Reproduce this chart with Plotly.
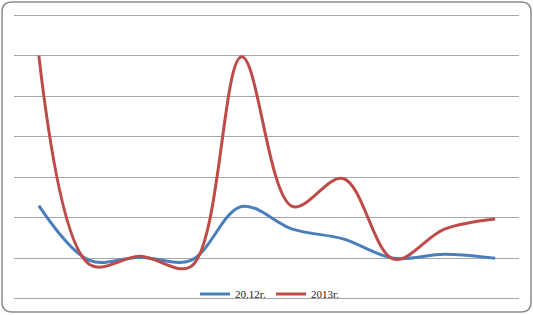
import plotly.graph_objects as go

categories = list(range(10))
series_names = ["20.12г.", "2013г."]
blue_values = [2.3, 0.95, 1.03, 0.95, 2.28, 1.72, 1.48, 1.0, 1.1, 1.0]
red_values = [6.0, 0.85, 1.05, 0.8, 5.97, 2.28, 2.97, 0.98, 1.72, 1.97]

W, H = 533, 315
ml, mr, mt, mb = 14, 14, 7, 7
pw, ph = W - ml - mr, H - mt - mb
Y0, Y1 = -0.2, 7.2

def px(x):
    return (x - ml) / pw

def py(y):
    return (H - mb - y) / ph

fig = go.Figure()
fig.add_trace(go.Scatter(x=categories, y=blue_values, name=series_names[0], mode="lines",
                         line=dict(color="#4a7ebb", width=3, shape="spline", smoothing=1)))
fig.add_trace(go.Scatter(x=categories, y=red_values, name=series_names[1], mode="lines",
                         line=dict(color="#be4b48", width=3, shape="spline", smoothing=1)))

# rounded border
x0, x1, y0, y1, r = 2, 531, 2, 313, 10
path = (f"M {px(x0+r)},{py(y0)} L {px(x1-r)},{py(y0)} Q {px(x1)},{py(y0)} {px(x1)},{py(y0+r)} "
        f"L {px(x1)},{py(y1-r)} Q {px(x1)},{py(y1)} {px(x1-r)},{py(y1)} "
        f"L {px(x0+r)},{py(y1)} Q {px(x0)},{py(y1)} {px(x0)},{py(y1-r)} "
        f"L {px(x0)},{py(y0+r)} Q {px(x0)},{py(y0)} {px(x0+r)},{py(y0)} Z")
fig.add_shape(type="path", path=path, xref="paper", yref="paper",
              line=dict(color="#8c8c8c", width=1.5), layer="below")

fig.update_layout(
    width=W, height=H,
    margin=dict(l=ml, r=mr, t=mt, b=mb),
    paper_bgcolor="white", plot_bgcolor="white",
    xaxis=dict(range=[-0.49, 9.47], showgrid=False, showticklabels=False, zeroline=False, showline=False, ticks=""),
    yaxis=dict(range=[Y0, Y1], dtick=1, tick0=0, showgrid=True, gridcolor="#a6a6a6", gridwidth=1,
               showticklabels=False, zeroline=False, showline=False, ticks=""),
    showlegend=True,
    legend=dict(orientation="h", x=px(195), y=py(294), xanchor="left", yanchor="middle",
                font=dict(family="Liberation Serif", size=11, color="#222"),
                bgcolor="rgba(0,0,0,0)", itemwidth=30),
)

fig.write_html("out.html")
